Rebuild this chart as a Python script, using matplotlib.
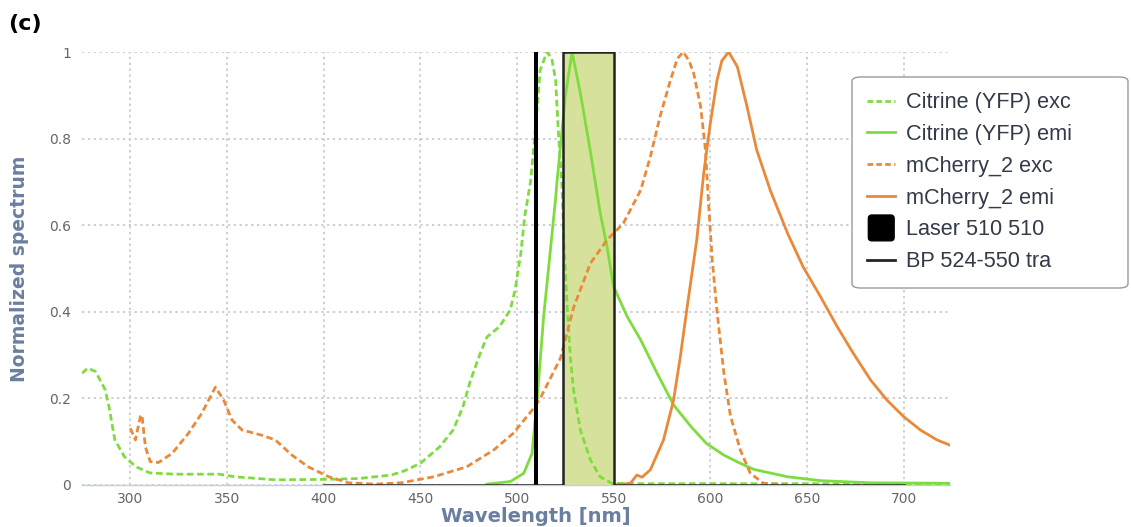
import matplotlib
matplotlib.use("Agg")
import matplotlib.pyplot as plt
from matplotlib.lines import Line2D
from matplotlib.patches import Patch, FancyBboxPatch
from matplotlib.legend_handler import HandlerPatch

# ---------------- data ----------------
cit_exc_wl = [275, 278, 282, 287, 289, 292, 297, 303, 310, 323, 346, 354, 375, 401, 418, 435, 442,
              450, 460, 467, 472, 476, 481, 484.5, 491, 496.5, 499, 502, 504, 507, 509.5, 512, 515.5,
              518, 520, 521.5, 523.3, 524.2, 526, 527.6, 529.3, 532.8, 538, 543, 549, 560, 724]
cit_exc_val = [0.258, 0.27, 0.262, 0.22, 0.18, 0.104, 0.065, 0.042, 0.028, 0.025, 0.025, 0.019, 0.012,
               0.013, 0.015, 0.023, 0.033, 0.05, 0.088, 0.127, 0.18, 0.242, 0.304, 0.342, 0.366, 0.404,
               0.45, 0.535, 0.62, 0.70, 0.82, 0.958, 1.0, 0.985, 0.935, 0.81, 0.69, 0.566, 0.41, 0.296,
               0.219, 0.127, 0.058, 0.019, 0.004, 0.003, 0.003]

cit_emi_wl = [484.5, 496.6, 503.5, 507.8, 510.4, 513.8, 517.3, 519.9, 520.7, 525, 528.5, 532.8, 538,
              543, 546.6, 550, 557, 564, 572.5, 581, 590, 598, 607, 615.6, 622.5, 640, 657, 683, 724]
cit_emi_val = [0.002, 0.008, 0.027, 0.073, 0.196, 0.389, 0.543, 0.658, 0.70, 0.897, 1.0, 0.905, 0.77,
               0.63, 0.55, 0.458, 0.389, 0.335, 0.258, 0.185, 0.135, 0.096, 0.069, 0.05, 0.036, 0.019,
               0.01, 0.005, 0.004]

mch_exc_wl = [300, 302.6, 305.2, 306, 307.8, 310.3, 314.6, 321.6, 330, 337, 344, 348.3, 352.6, 357.8,
              368, 375, 383.6, 392, 402.6, 413, 426.7, 440, 457, 474, 488, 498, 508.6, 512, 516, 522.5,
              529.3, 538, 546.6, 555, 564, 569, 574, 579.4, 583, 586, 589, 591.4, 595, 597.5, 599.2,
              601, 603.5, 607, 610.4, 615.6, 620.7, 627.5, 640]
mch_exc_val = [0.131, 0.104, 0.158, 0.162, 0.088, 0.054, 0.052, 0.073, 0.119, 0.166, 0.226, 0.196,
               0.15, 0.127, 0.115, 0.104, 0.069, 0.042, 0.019, 0.005, 0.002, 0.005, 0.019, 0.042, 0.081,
               0.119, 0.177, 0.2, 0.235, 0.293, 0.41, 0.512, 0.566, 0.604, 0.681, 0.758, 0.851, 0.935,
               0.985, 1.0, 0.98, 0.951, 0.874, 0.774, 0.643, 0.52, 0.40, 0.26, 0.16, 0.08, 0.027, 0.004,
               0.0]

mch_emi_wl = [550, 558.7, 562, 564.7, 569, 575.8, 581, 584.5, 588, 593, 596.6, 600, 603.5, 606, 609.5,
              614, 619, 624, 631, 640, 648, 657, 665.6, 674, 683, 691.4, 700, 708.7, 717.3, 724]
mch_emi_val = [0.0, 0.004, 0.023, 0.018, 0.035, 0.104, 0.196, 0.296, 0.41, 0.566, 0.72, 0.835, 0.935,
               0.98, 1.0, 0.966, 0.874, 0.774, 0.681, 0.581, 0.504, 0.435, 0.366, 0.304, 0.242, 0.196,
               0.158, 0.127, 0.104, 0.092]

laser_wl = [509, 511]
laser_val = [1, 1]

bp_wl = [400, 524, 524, 550, 550, 700]
bp_val = [0, 0, 1, 1, 0, 0]

labels = ["Citrine (YFP) exc", "Citrine (YFP) emi", "mCherry_2 exc", "mCherry_2 emi",
          "Laser 510 510", "BP 524-550 tra"]
x_ticks = [300, 350, 400, 450, 500, 550, 600, 650, 700]
y_ticks = [0, 0.2, 0.4, 0.6, 0.8, 1]
y_ticklabels = ["0", "0.2", "0.4", "0.6", "0.8", "1"]

# ---------------- style ----------------
GREEN = "#7fdc3f"
ORANGE = "#e98a3a"
FILL = "#d6e29c"
AXIS_TITLE = "#6a7fa0"
DASH = (0, (2.4, 1.3))

fig = plt.figure(figsize=(11.31, 5.27), dpi=100)
L, R, B, T = 82 / 1131, 950 / 1131, 1 - 485 / 527, 1 - 52 / 527
ax = fig.add_axes([L, B, R - L, T - B])

# filter pass band fill
ax.fill_between(bp_wl[2:4], 0, bp_val[2:4], color=FILL, zorder=1, linewidth=0)

ax.plot(cit_exc_wl, cit_exc_val, color=GREEN, lw=2.0, ls=DASH, zorder=3)
ax.plot(cit_emi_wl, cit_emi_val, color=GREEN, lw=2.0, zorder=3)
ax.plot(mch_exc_wl, mch_exc_val, color=ORANGE, lw=2.0, ls=DASH, zorder=3)
ax.plot(mch_emi_wl, mch_emi_val, color=ORANGE, lw=2.0, zorder=3)

ax.fill_between(laser_wl, 0, laser_val, color="black", zorder=4, linewidth=0)
ax.plot(bp_wl, bp_val, color="#222222", lw=1.8, zorder=4)

ax.set_xlim(275, 724)
ax.set_ylim(0, 1)
ax.set_xticks(x_ticks)
ax.set_yticks(y_ticks)
ax.set_yticklabels(y_ticklabels)
ax.tick_params(axis="both", length=0, labelsize=10, colors="#666666", pad=8)
ax.tick_params(axis="x", pad=5)
for s in ["top", "right", "left"]:
    ax.spines[s].set_visible(False)
ax.spines["bottom"].set_color("#c0d0e0")
ax.spines["bottom"].set_linewidth(1.0)
ax.grid(True, color="#cfcfcf", linestyle=(0, (1.2, 1.8)), linewidth=1.4, zorder=0)
ax.set_axisbelow(True)

ax.set_xlabel("Wavelength [nm]", fontsize=14, fontweight="bold", color=AXIS_TITLE)
ax.xaxis.set_label_coords((536 - 82) / 868, -(516 - 485) / 433)
ax.xaxis.label.set_va("center")
ax.set_ylabel("Normalized spectrum", fontsize=13.5, fontweight="bold", color=AXIS_TITLE)
ax.yaxis.set_label_coords(-(82 - 20) / 868, 0.5)
ax.yaxis.label.set_va("center")

fig.text(0.007, 0.955, "(c)", fontsize=16, fontweight="bold", color="black", ha="left", va="center")


class SquareHandler(HandlerPatch):
    def create_artists(self, legend, orig_handle, xdescent, ydescent, width, height, fontsize, trans):
        side = min(width, height * 1.7)
        x0 = -xdescent + (width - side) / 2
        y0 = -ydescent + (height - side) / 2
        p = FancyBboxPatch((x0, y0), side, side, boxstyle="round,pad=0,rounding_size=2.5",
                           facecolor="black", edgecolor="black", transform=trans)
        return [p]


# legend frame (fixed size like the reference)
frame = FancyBboxPatch((852 / 1131, 1 - 288 / 527), (1128 - 852) / 1131, (288 - 77) / 527,
                       boxstyle="round,pad=0,rounding_size=0.008", transform=fig.transFigure,
                       facecolor="white", edgecolor="#9a9a9a", linewidth=1.0, zorder=5)
fig.patches.append(frame)

handles = [
    Line2D([], [], color=GREEN, lw=2.0, ls=(0, (2.0, 1.2))),
    Line2D([], [], color=GREEN, lw=2.0),
    Line2D([], [], color=ORANGE, lw=2.0, ls=(0, (2.0, 1.2))),
    Line2D([], [], color=ORANGE, lw=2.0),
    Patch(facecolor="black"),
    Line2D([], [], color="#222222", lw=2.0),
]
leg = fig.legend(handles, labels, loc="upper left", bbox_to_anchor=(852 / 1131, 1 - 77 / 527),
                 borderaxespad=0, frameon=False, handlelength=1.3,
                 handletextpad=0.5, labelspacing=0.5, borderpad=0.7,
                 prop={"family": "Liberation Sans", "size": 15.6},
                 handler_map={Patch: SquareHandler()})
leg.set_zorder(6)
for t in leg.get_texts():
    t.set_color("#333a48")

fig.savefig("out.png", dpi=100)
